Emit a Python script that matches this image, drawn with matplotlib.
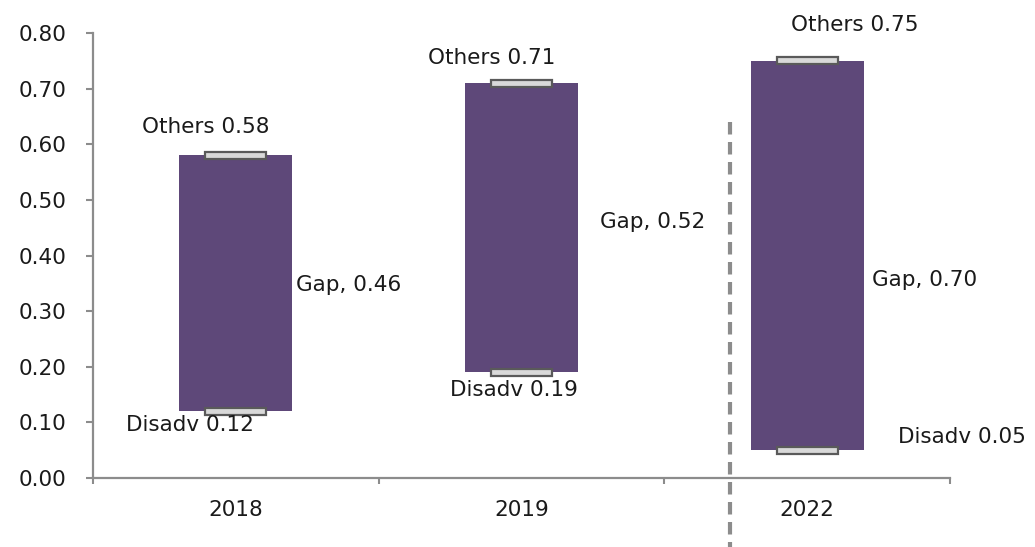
import matplotlib
matplotlib.use("Agg")
import matplotlib.pyplot as plt

# Data
years = ["2018", "2019", "2022"]
disadv = [0.12, 0.19, 0.05]
others = [0.58, 0.71, 0.75]
gap = [0.46, 0.52, 0.70]
y_ticks = [0.0, 0.1, 0.2, 0.3, 0.4, 0.5, 0.6, 0.7, 0.8]

# Label placement (pixel offsets from the anchor point)
others_off = [(-30, 28), (-30, 25), (48, 36)]
disadv_off = [(-46, -14), (-8, -18), (155, 13)]
gap_off = [(4, -2), (22, 6), (8, -24)]

BAR = "#5e4879"
MARK_FACE = "#d9d9d9"
MARK_EDGE = "#5a5a5a"
AXIS = "#8c8c8c"
TXT = "#1a1a1a"
FS = 15.5

plt.rcParams["font.family"] = ["DejaVu Sans"]

fig = plt.figure(figsize=(10.35, 5.47), dpi=100)
ax = fig.add_axes([93 / 1035, 69 / 547, (950 - 93) / 1035, (478 - 33) / 547])

x = list(range(len(years)))
bar_w = 0.395
mark_w = 0.213
mark_h = 0.0125

# Floating bars spanning the gap
heights = [o - d for o, d in zip(others, disadv)]
ax.bar(x, heights, bottom=disadv, width=bar_w, color=BAR, zorder=2)

# End markers at each value
for vals in (others, disadv):
    ax.bar(x, [mark_h] * len(x), bottom=[v - mark_h / 2 for v in vals],
           width=mark_w, color=MARK_FACE, edgecolor=MARK_EDGE,
           linewidth=1.6, zorder=3)

# Labels
for i in x:
    ax.annotate(f"Others {others[i]:.2f}", xy=(i, others[i]),
                xytext=others_off[i], textcoords="offset pixels",
                ha="center", va="center", fontsize=FS, color=TXT)
    ax.annotate(f"Disadv {disadv[i]:.2f}", xy=(i, disadv[i]),
                xytext=disadv_off[i], textcoords="offset pixels",
                ha="center", va="center", fontsize=FS, color=TXT)
    ax.annotate(f"Gap, {gap[i]:.2f}", xy=(i + bar_w / 2, (others[i] + disadv[i]) / 2),
                xytext=gap_off[i], textcoords="offset pixels",
                ha="left", va="center", fontsize=FS, color=TXT)

# Dashed separator before 2022
ax.plot([1.731, 1.731], [0.64, -0.125], color=AXIS, lw=3.0,
        dashes=(3.0, 1.8), clip_on=False, zorder=1)

ax.set_xlim(-0.5, 2.5)
ax.set_ylim(0, 0.8)

ax.set_yticks(y_ticks)
ax.set_yticklabels([f"{t:.2f}" for t in y_ticks])
ax.tick_params(axis="y", direction="out", length=5, width=1.5, color=AXIS,
               labelsize=FS, labelcolor=TXT, pad=14)

ax.set_xticks([-0.5, 0.5, 1.5, 2.5])
ax.set_xticklabels([])
ax.tick_params(axis="x", which="major", direction="out", length=4.5,
               width=1.5, color=AXIS)
ax.set_xticks(x, minor=True)
ax.set_xticklabels(years, minor=True)
ax.tick_params(axis="x", which="minor", length=0, labelsize=FS,
               labelcolor=TXT, pad=16)

for s in ("top", "right"):
    ax.spines[s].set_visible(False)
for s in ("left", "bottom"):
    ax.spines[s].set_color(AXIS)
    ax.spines[s].set_linewidth(1.6)

fig.savefig("out.png", dpi=100, facecolor="white")
